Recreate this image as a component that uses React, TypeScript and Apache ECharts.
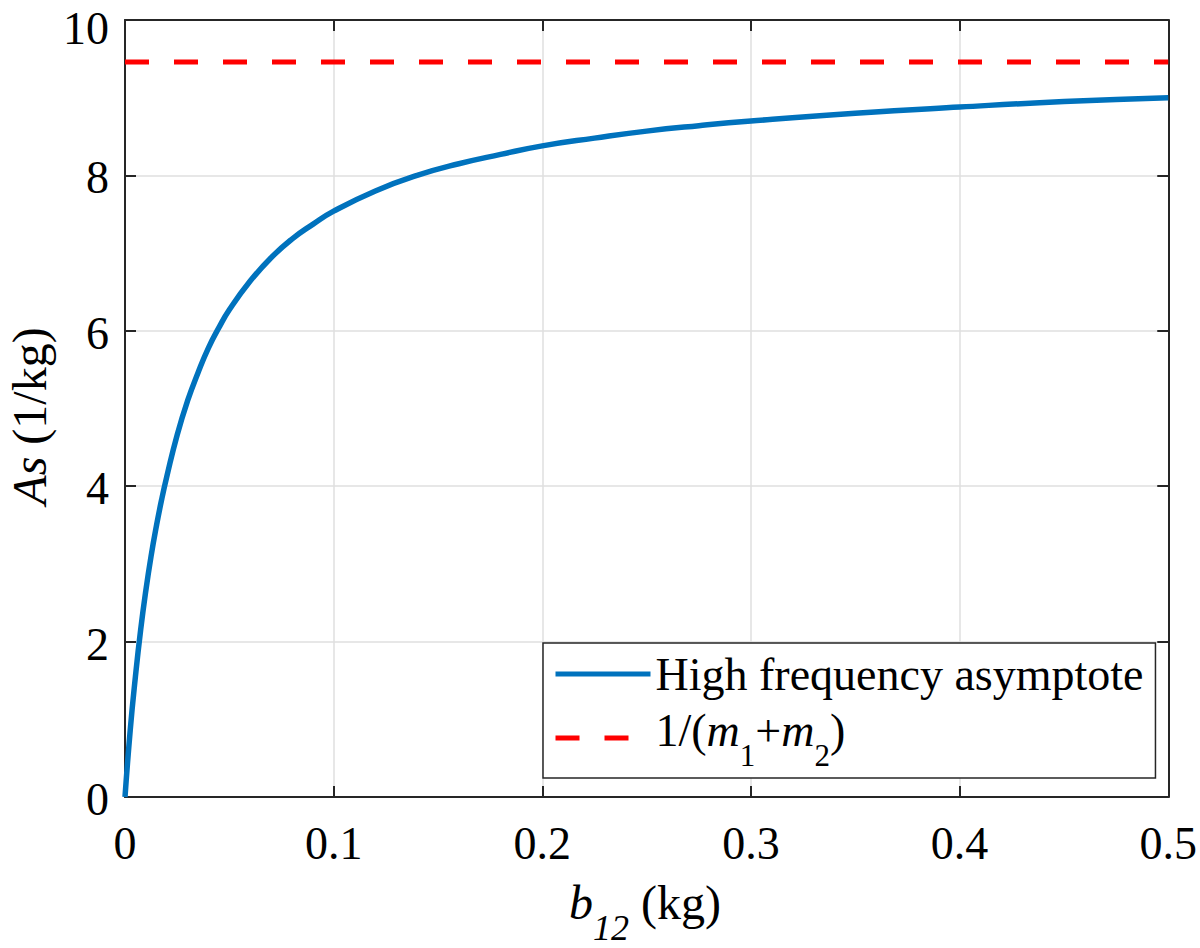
import React, { useEffect, useRef } from "react";
import * as echarts from "echarts";

// b12 (kg) sample positions and As (1/kg) values
const bValues = [
  0, 0.0025, 0.005, 0.0075, 0.01, 0.0125, 0.015, 0.0175, 0.02, 0.025, 0.03,
  0.035, 0.04, 0.045, 0.05, 0.06, 0.07, 0.08, 0.09, 0.1, 0.12, 0.14, 0.16,
  0.18, 0.2, 0.225, 0.25, 0.275, 0.3, 0.35, 0.4, 0.45, 0.5,
];
const asValues = [
  0, 0.86, 1.55, 2.15, 2.66, 3.1, 3.48, 3.82, 4.12, 4.66, 5.1, 5.46, 5.78,
  6.04, 6.27, 6.64, 6.94, 7.18, 7.37, 7.54, 7.8, 8.0, 8.15, 8.27, 8.38, 8.48,
  8.57, 8.64, 8.7, 8.8, 8.88, 8.95, 9.0,
];
// 1/(m1+m2) asymptote level
const asymptoteX = [0, 0.5];
const asymptoteY = [9.46, 9.46];

const seriesNames = ["High frequency asymptote", "1/(m1+m2)"];
const xTicks = { min: 0, max: 0.5, interval: 0.1 };
const yTicks = { min: 0, max: 10, interval: 2 };

const FONT = "'Liberation Serif', 'Times New Roman', serif";
const AXIS_COLOR = "#262626";
const GRID_COLOR = "#dfdfdf";

export default function App() {
  const ref = useRef<HTMLDivElement>(null);

  useEffect(() => {
    if (!ref.current) return;
    const chart = echarts.init(ref.current, undefined, { renderer: "svg" });

    const baseAxis = {
      type: "value" as const,
      axisLine: { show: true, onZero: false, lineStyle: { color: AXIS_COLOR, width: 2 } },
      axisTick: { show: true, inside: true, length: 11, lineStyle: { color: AXIS_COLOR, width: 2 } },
    };

    const option: any = {
      animation: false,
      backgroundColor: "#ffffff",
      textStyle: { fontFamily: FONT },
      grid: { left: 125, right: 31, top: 20, bottom: 151, containLabel: false },
      xAxis: [
        {
          ...baseAxis,
          position: "bottom",
          ...xTicks,
          axisLabel: {
            show: true,
            fontSize: 46,
            fontFamily: FONT,
            color: "#000",
            margin: 23,
          },
          splitLine: { show: true, lineStyle: { color: GRID_COLOR, width: 1.5 } },
        },
        {
          ...baseAxis,
          position: "top",
          ...xTicks,
          axisLabel: { show: false },
          splitLine: { show: false },
        },
      ],
      yAxis: [
        {
          ...baseAxis,
          position: "left",
          ...yTicks,
          axisLabel: {
            show: true,
            fontSize: 46,
            fontFamily: FONT,
            color: "#000",
            margin: 16,
            formatter: (v: number) => (v === yTicks.max ? `{t|${v}}` : `{n|${v}}`),
            rich: {
              n: { fontSize: 46, fontFamily: FONT, color: "#000", padding: [5, 0, 0, 0] },
              t: { fontSize: 46, fontFamily: FONT, color: "#000", padding: [16, 0, 0, 0] },
            },
          },
          splitLine: { show: true, lineStyle: { color: GRID_COLOR, width: 1.5 } },
        },
        {
          ...baseAxis,
          position: "right",
          ...yTicks,
          axisLabel: { show: false },
          splitLine: { show: false },
        },
      ],
      legend: {
        show: true,
        orient: "vertical",
        left: 543,
        top: 643,
        padding: [8, 12, 7, 10],
        itemGap: 8,
        itemWidth: 95,
        itemHeight: 2,
        itemTextGap: 9,
        selectedMode: false,
        backgroundColor: "#ffffff",
        borderColor: AXIS_COLOR,
        borderWidth: 1.5,
        borderRadius: 0,
        itemStyle: { opacity: 0 },
        lineStyle: { width: 5 },
        data: seriesNames,
        formatter: (name: string) =>
          name === seriesNames[1]
            ? "{sp|}{m|1/(}{mi|m}{sub|1}{m|+}{mi|m}{sub|2}{m|)}"
            : name,
        textStyle: {
          fontFamily: FONT,
          fontSize: 46,
          color: "#000",
          lineHeight: 44,
          rich: {
            sp: { lineHeight: 66, fontSize: 46, fontFamily: FONT },
            m: { fontSize: 46, fontFamily: FONT, verticalAlign: "top", padding: [2, 0, 0, 0], color: "#000" },
            mi: { fontSize: 46, fontFamily: FONT, fontStyle: "italic", verticalAlign: "top", padding: [2, 0, 0, 0], color: "#000" },
            sub: { fontSize: 31, fontFamily: FONT, verticalAlign: "bottom", color: "#000" },
          },
        },
      },
      graphic: [
        {
          type: "text",
          x: 645,
          y: 878,
          silent: true,
          style: {
            text: "{sp|}{bi|b}{sub|12}{n| (kg)}",
            align: "center",
            verticalAlign: "top",
            fontFamily: FONT,
            fontSize: 48,
            fill: "#000",
            rich: {
              sp: { lineHeight: 68, fontSize: 48, fontFamily: FONT },
              bi: { fontSize: 48, fontFamily: FONT, fontStyle: "italic", verticalAlign: "top", fill: "#000" },
              sub: { fontSize: 36, fontFamily: FONT, fontStyle: "italic", verticalAlign: "bottom", fill: "#000" },
              n: { fontSize: 48, fontFamily: FONT, verticalAlign: "top", fill: "#000" },
            },
          },
        },
        {
          type: "text",
          x: 29,
          y: 416,
          rotation: Math.PI / 2,
          silent: true,
          style: {
            text: "{ai|As}{n| (1/kg)}",
            align: "center",
            verticalAlign: "middle",
            fontFamily: FONT,
            fontSize: 48,
            fill: "#000",
            rich: {
              ai: { fontSize: 48, fontFamily: FONT, fontStyle: "italic", fill: "#000" },
              n: { fontSize: 48, fontFamily: FONT, fill: "#000" },
            },
          },
        },
      ],
      series: [
        {
          name: seriesNames[0],
          type: "line",
          xAxisIndex: 0,
          yAxisIndex: 0,
          data: bValues.map((b, i) => [b, asValues[i]]),
          showSymbol: false,
          symbol: "none",
          smooth: true,
          color: "#0072BD",
          lineStyle: { color: "#0072BD", width: 5.5 },
          z: 3,
        },
        {
          name: seriesNames[1],
          type: "line",
          xAxisIndex: 0,
          yAxisIndex: 0,
          data: asymptoteX.map((x, i) => [x, asymptoteY[i]]),
          showSymbol: false,
          symbol: "none",
          color: "#FF0000",
          lineStyle: { color: "#FF0000", width: 5, type: [24, 25] },
          z: 3,
        },
      ],
    };

    chart.setOption(option);
    return () => chart.dispose();
  }, []);

  return (
    <div
      ref={ref}
      style={{ position: "fixed", left: 0, top: 0, width: 1200, height: 948, background: "#fff" }}
    />
  );
}
